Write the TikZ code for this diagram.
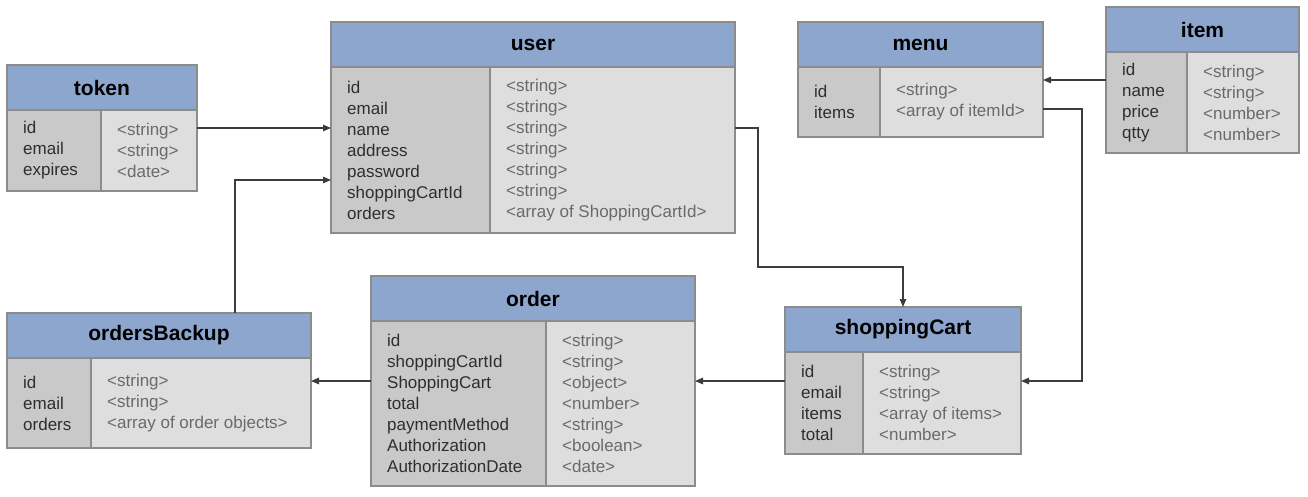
\documentclass[tikz,border=0pt]{standalone}
\usepackage{fontspec}
\setmainfont{Liberation Sans}
\usetikzlibrary{arrows.meta}
\definecolor{hdrblue}{HTML}{8DA6CE}
\definecolor{lgray}{HTML}{C9C9C9}
\definecolor{rgray}{HTML}{DEDEDE}
\definecolor{bordgray}{HTML}{8C8C8C}
\definecolor{fieldtxt}{HTML}{2E2E2E}
\definecolor{typetxt}{HTML}{6A6A6A}
\definecolor{conncol}{HTML}{3C3C3C}
\tikzset{
  hdr/.style={draw=bordgray, line width=1.2pt, fill=hdrblue, minimum height=45pt, inner sep=0pt, outer sep=0pt,
    font=\fontsize{21}{24}\selectfont\bfseries, text=black},
  lcol/.style={draw=bordgray, line width=1.2pt, fill=lgray, inner sep=0pt, outer sep=0pt},
  rcol/.style={draw=bordgray, line width=1.2pt, fill=rgray, inner sep=0pt, outer sep=0pt},
  ftxt/.style={inner sep=0pt, align=left, font=\fontsize{17}{21}\selectfont, text=fieldtxt},
  ttxt/.style={inner sep=0pt, align=left, font=\fontsize{17}{21}\selectfont, text=typetxt},
  conn/.style={draw=conncol, line width=1.2pt, -{Triangle[length=8pt,width=6.5pt]}}
}
% name, x, y, width, divider offset, body height, title, fields, types
\newcommand\erbox[9]{%
  \node[hdr, minimum width=#4pt, anchor=north west] (#1H) at (#2,#3) {#7};
  \node[lcol, minimum width=#5pt, minimum height=#6pt, anchor=north west] (#1L) at (#1H.south west) {};
  \node[rcol, minimum width={(#4-#5)*1pt}, minimum height=#6pt, anchor=north west] (#1R) at (#1L.north east) {};
  \node[ftxt, anchor=west] (#1F) at ([xshift=16pt]#1L.west) {#8};
  \node[ttxt, anchor=west] (#1T) at ([xshift=16pt]#1R.west) {#9};
}
\begin{document}
\begin{tikzpicture}[x=1pt,y=-1pt]
\useasboundingbox[fill=white] (0,0) rectangle (1308,497);

\erbox{token}{7}{65}{190}{94}{81}{token}
  {id\\email\\expires}
  {<string>\\<string>\\<date>}
\erbox{user}{331}{22}{404}{159}{166}{user}
  {id\\email\\name\\address\\password\\shoppingCartId\\orders}
  {<string>\\<string>\\<string>\\<string>\\<string>\\<string>\\<array of ShoppingCartId>}
\erbox{menu}{798}{22}{245}{82}{70}{menu}
  {id\\items}
  {<string>\\<array of itemId>}
\erbox{item}{1106}{7}{193}{81}{101}{item}
  {id\\name\\price\\qtty}
  {<string>\\<string>\\<number>\\<number>}
\erbox{cart}{785}{307}{236}{78}{102}{shoppingCart}
  {id\\email\\items\\total}
  {<string>\\<string>\\<array of items>\\<number>}
\erbox{order}{371}{276}{324}{175}{165}{order}
  {id\\shoppingCartId\\ShoppingCart\\total\\paymentMethod\\Authorization\\AuthorizationDate}
  {<string>\\<string>\\<object>\\<number>\\<string>\\<boolean>\\<date>}
\erbox{backup}{7}{313}{304}{84}{90}{ordersBackup}
  {id\\email\\orders}
  {<string>\\<string>\\<array of order objects>}

% routing coordinates
\coordinate (yA) at (0,128);
\coordinate (yB) at (0,180);
\coordinate (xB) at (235,0);
\coordinate (c1) at (758,267);
\coordinate (yC) at (0,80);
\coordinate (yE) at (0,109);
\coordinate (xE) at (1082,0);
\coordinate (yD) at (0,381);

\draw[conn] (tokenR.east |- yA) -- (userL.west |- yA);
\draw[conn] (xB |- backupH.north) -- (xB |- yB) -- (userL.west |- yB);
\draw[conn] (userR.east |- yA) -| (c1) -| (cartH.north);
\draw[conn] (itemL.west |- yC) -- (menuR.east |- yC);
\draw[conn] (menuR.east |- yE) -| (xE |- yD) -- (cartR.east |- yD);
\draw[conn] (cartL.west |- yD) -- (orderR.east |- yD);
\draw[conn] (orderL.west |- yD) -- (backupR.east |- yD);
\end{tikzpicture}
\end{document}
